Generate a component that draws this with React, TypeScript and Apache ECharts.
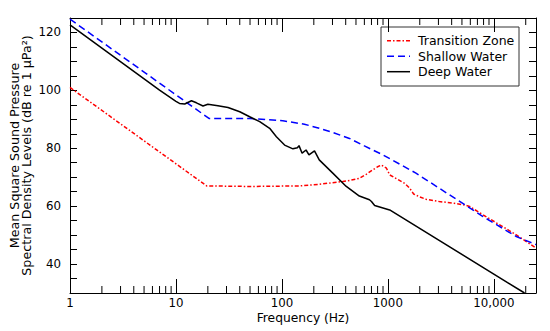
import React, { useEffect, useRef } from "react";
import * as echarts from "echarts";

// Deep Water (solid black)
const deepFreq = [1, 7, 10, 10.8, 12.1, 14.0, 15.6, 18.0, 20, 24.9, 31, 40, 49.6, 61.7, 76.6, 88.7, 106, 127, 140, 145, 155, 169, 180, 203, 225, 302, 405, 538, 670, 700, 750, 1040, 19500];
const deepLevel = [122.6, 100.1, 96.2, 95.5, 95.3, 96.4, 95.7, 94.6, 95.2, 94.7, 94.1, 92.6, 90.9, 89.2, 86.9, 84.0, 81.1, 79.8, 80.2, 80.9, 78.3, 79.4, 77.7, 79.1, 76.0, 71.4, 66.8, 63.5, 62.2, 61.6, 60.2, 58.7, 30.0];

// Shallow Water (blue dashed)
const shallowFreq = [1, 20.5, 50, 102, 163, 211, 300, 434, 600, 900, 1840, 3820, 7900, 16300, 25000];
const shallowLevel = [124.6, 90.3, 90.3, 89.5, 88.3, 87.2, 85.5, 83.4, 80.8, 77.7, 71.4, 63.9, 56.4, 49.5, 46.7];

// Transition Zone (red dash-dot)
const transFreq = [1, 19.5, 50, 147, 220, 300, 375, 450, 538, 624, 718, 800, 870, 970, 1040, 1200, 1440, 1600, 1750, 2000, 2290, 3050, 4230, 5130, 5920, 7900, 16300, 25000];
const transLevel = [101.0, 67.0, 66.8, 67.0, 67.5, 68.1, 68.5, 69.0, 69.6, 71.0, 72.5, 73.6, 74.2, 73.1, 70.8, 69.5, 67.9, 66.3, 64.2, 63.2, 62.4, 61.6, 61.0, 60.5, 59.9, 57.0, 50.1, 45.5];

const seriesNames = ["Transition Zone", "Shallow Water", "Deep Water"];
const seriesColors = ["#ff0000", "#0000ff", "#000000"];
const seriesDash: (number[] | null)[] = [[4, 2, 1.5, 2], [7, 4], null];
const xTickLabels: Record<number, string> = { 1: "1", 10: "10", 100: "100", 1000: "1000", 10000: "10,000" };
const yTickLabels = [40, 60, 80, 100, 120];

const X_MIN = 1;
const X_MAX = 25000;
const Y_MIN = 30;
const Y_MAX = 125;

const minorFreqs: number[] = [];
for (const d of [1, 10, 100, 1000, 10000]) {
  for (let m = 2; m <= 9; m++) {
    if (m * d < X_MAX) minorFreqs.push(m * d);
  }
}

const FONT = "DejaVu Sans";

export default function App() {
  const ref = useRef<HTMLDivElement>(null);
  useEffect(() => {
    if (!ref.current) return;
    const chart = echarts.init(ref.current, undefined, { renderer: "svg" });
    const zip = (f: number[], v: number[]) => f.map((x, i) => [x, v[i]]);
    const xBase = {
      type: "log" as const,
      min: X_MIN,
      max: X_MAX,
      logBase: 10,
      axisLine: { show: true, lineStyle: { color: "#000", width: 1 } },
      axisTick: { show: true, inside: true, length: 14, lineStyle: { color: "#000" } },
      splitLine: { show: false },
    };
    const yBase = {
      type: "value" as const,
      min: Y_MIN,
      max: Y_MAX,
      interval: 5,
      axisLine: { show: true, lineStyle: { color: "#000", width: 1 } },
      axisTick: { show: true, inside: true, length: 7, lineStyle: { color: "#000" } },
      splitLine: { show: false },
    };

    // legend drawn as graphic
    const LX = 381, LY = 27, LW = 138, LH = 59;
    const legendChildren: any[] = [
      { type: "rect", shape: { x: LX, y: LY, width: LW, height: LH }, style: { fill: "#fff", stroke: "#333", lineWidth: 1 } },
    ];
    const rowY = [40.7, 56.2, 71.7];
    seriesNames.forEach((n, i) => {
      legendChildren.push({
        type: "line",
        shape: { x1: 387, y1: rowY[i], x2: 410, y2: rowY[i] },
        style: { stroke: seriesColors[i], lineWidth: 1.5, lineDash: seriesDash[i] || undefined },
      });
      legendChildren.push({
        type: "text",
        x: 418,
        y: rowY[i],
        style: { text: n, fill: "#000", font: `12.5px "${FONT}"`, verticalAlign: "middle" },
      });
    });

    chart.setOption({
      animation: false,
      textStyle: { fontFamily: FONT },
      grid: { left: 70, right: 14, top: 18, bottom: 38, containLabel: false, outerBoundsMode: "none" },
      graphic: [{ type: "group", z: 100, children: legendChildren }],
      xAxis: [
        {
          ...xBase,
          position: "bottom",
          name: "Frequency (Hz)",
          nameLocation: "middle",
          nameGap: 18,
          nameMoveOverlap: false,
          nameTextStyle: { fontFamily: FONT, fontSize: 12.3, color: "#000", lineHeight: 13 },
          axisLabel: {
            show: true,
            margin: 4,
            fontFamily: FONT,
            fontSize: 11.8,
            color: "#000",
            lineHeight: 12,
            showMaxLabel: false,
            formatter: (v: number) => {
              const r = Math.round(v);
              return xTickLabels[r] ?? "";
            },
          },
        },
        { ...xBase, position: "top", axisLabel: { show: false } },
      ],
      yAxis: [
        {
          ...yBase,
          position: "left",
          name: "Mean Square Sound Pressure\nSpectral Density Levels (dB re 1 µPa²)",
          nameLocation: "middle",
          nameRotate: 90,
          nameGap: 37,
          nameMoveOverlap: false,
          nameTextStyle: { fontFamily: FONT, fontSize: 12.7, color: "#000", lineHeight: 12.5 },
          axisLabel: {
            show: true,
            margin: 9,
            fontFamily: FONT,
            fontSize: 11.8,
            color: "#000",
            formatter: (v: number) => (yTickLabels.includes(v) ? String(v) : ""),
          },
        },
        { ...yBase, position: "right", axisLabel: { show: false } },
      ],
      series: [
        {
          name: seriesNames[0],
          type: "line",
          data: zip(transFreq, transLevel),
          symbol: "none",
          lineStyle: { color: seriesColors[0], width: 1.5, type: seriesDash[0] },
        },
        {
          name: seriesNames[1],
          type: "line",
          data: zip(shallowFreq, shallowLevel),
          symbol: "none",
          lineStyle: { color: seriesColors[1], width: 1.5, type: seriesDash[1] },
        },
        {
          name: seriesNames[2],
          type: "line",
          data: zip(deepFreq, deepLevel),
          symbol: "none",
          lineStyle: { color: seriesColors[2], width: 1.5, type: "solid" },
        },
        {
          name: "minorTicks",
          type: "custom",
          silent: true,
          clip: false,
          data: minorFreqs.map((f) => [f, Y_MIN]),
          renderItem: (_params: any, api: any) => {
            const f = api.value(0);
            const pb = api.coord([f, Y_MIN]);
            const pt = api.coord([f, Y_MAX]);
            return {
              type: "group",
              children: [
                { type: "line", shape: { x1: pb[0], y1: pb[1], x2: pb[0], y2: pb[1] - 7 }, style: { stroke: "#000", lineWidth: 1 } },
                { type: "line", shape: { x1: pt[0], y1: pt[1], x2: pt[0], y2: pt[1] + 7 }, style: { stroke: "#000", lineWidth: 1 } },
              ],
            };
          },
        },
      ],
    });
    return () => chart.dispose();
  }, []);
  return (
    <div
      ref={ref}
      style={{ position: "fixed", left: 0, top: 0, width: 550, height: 331, background: "#fff" }}
    />
  );
}
